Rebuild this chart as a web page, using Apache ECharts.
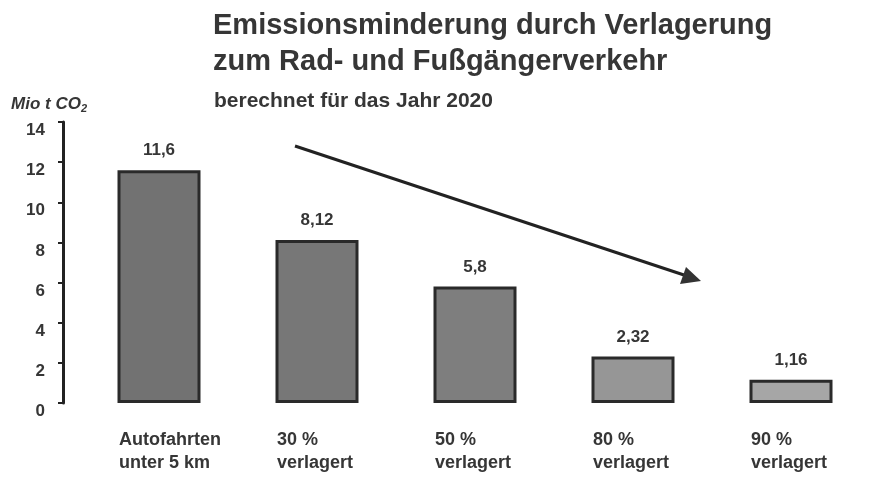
<!DOCTYPE html>
<html><head><meta charset="utf-8">
<script src="https://cdn.jsdelivr.net/npm/echarts@6/dist/echarts.min.js"></script>
<style>html,body{margin:0;padding:0;background:#fff}#c{width:884px;height:493px}</style>
</head><body><div id="c"></div>
<script>
const categories = ['Autofahrten\nunter 5 km', '30 %\nverlagert', '50 %\nverlagert', '80 %\nverlagert', '90 %\nverlagert'];
const values = [11.6, 8.12, 5.8, 2.32, 1.16];
const valueLabels = ['11,6', '8,12', '5,8', '2,32', '1,16'];
const barFills = ['#727272', '#777777', '#7e7e7e', '#969696', '#a6a6a6'];
const yTicks = [0, 2, 4, 6, 8, 10, 12, 14];

const chart = echarts.init(document.getElementById('c'));
const font = '"Liberation Sans", Arial, sans-serif';
const ink = '#363636';
chart.setOption({
  backgroundColor: '#ffffff',
  animation: false,
  textStyle: { fontFamily: font },
  title: [
    { text: 'Emissionsminderung durch Verlagerung\nzum Rad- und Fußgängerverkehr', left: 208, top: 3,
      textStyle: { fontFamily: font, fontSize: 29, fontWeight: 'bold', color: ink, lineHeight: 36 } },
    { text: 'berechnet für das Jahr 2020', left: 209, top: 86,
      textStyle: { fontFamily: font, fontSize: 21, fontWeight: 'bold', color: ink } },
    { text: '{a|Mio t CO}{s|2}', left: 6, top: 89,
      textStyle: { rich: {
        a: { fontFamily: font, fontSize: 17, fontStyle: 'italic', color: ink },
        s: { fontFamily: font, fontSize: 11, fontStyle: 'italic', color: ink, verticalAlign: 'bottom', padding: [9, 0, 0, 0] } } } }
  ],
  grid: { left: 80, right: 14, top: 122, bottom: 90 },
  xAxis: {
    type: 'category', data: categories,
    axisLine: { show: false }, axisTick: { show: false },
    axisLabel: {
      interval: 0, margin: 26, color: ink, fontSize: 18, fontWeight: 'bold', lineHeight: 23,
      formatter: v => v.split('\n').map(s => '{a|' + s + '}').join('\n'),
      rich: { a: { width: 80, align: 'left', fontSize: 18, fontWeight: 'bold', fontFamily: font, color: ink, lineHeight: 23 } }
    }
  },
  yAxis: {
    type: 'value', min: 0, max: 14, interval: 2, offset: 17,
    axisLine: { show: true, lineStyle: { color: '#222', width: 3 } },
    axisTick: { show: true, length: 5, lineStyle: { color: '#222', width: 2 } },
    splitLine: { show: false },
    axisLabel: { margin: 18, color: ink, fontSize: 17, fontWeight: 'bold', fontFamily: font, verticalAlign: 'top',
      formatter: v => yTicks.includes(v) ? String(v) : '' }
  },
  series: [{
    type: 'bar', barWidth: 83,
    data: values.map((v, i) => ({ value: v, itemStyle: { color: barFills[i] } })),
    itemStyle: { borderColor: '#2a2a2a', borderWidth: 3 },
    label: { show: true, position: 'top', distance: 11, fontSize: 17, fontWeight: 'bold', color: ink, fontFamily: font,
      formatter: p => valueLabels[p.dataIndex] }
  }],
  graphic: [
    { type: 'line', shape: { x1: 295, y1: 146, x2: 690, y2: 277 }, style: { stroke: '#222', lineWidth: 3 } },
    { type: 'polygon', shape: { points: [[701, 281], [680, 284], [686, 267]] }, style: { fill: '#333' } }
  ]
});
</script></body></html>
